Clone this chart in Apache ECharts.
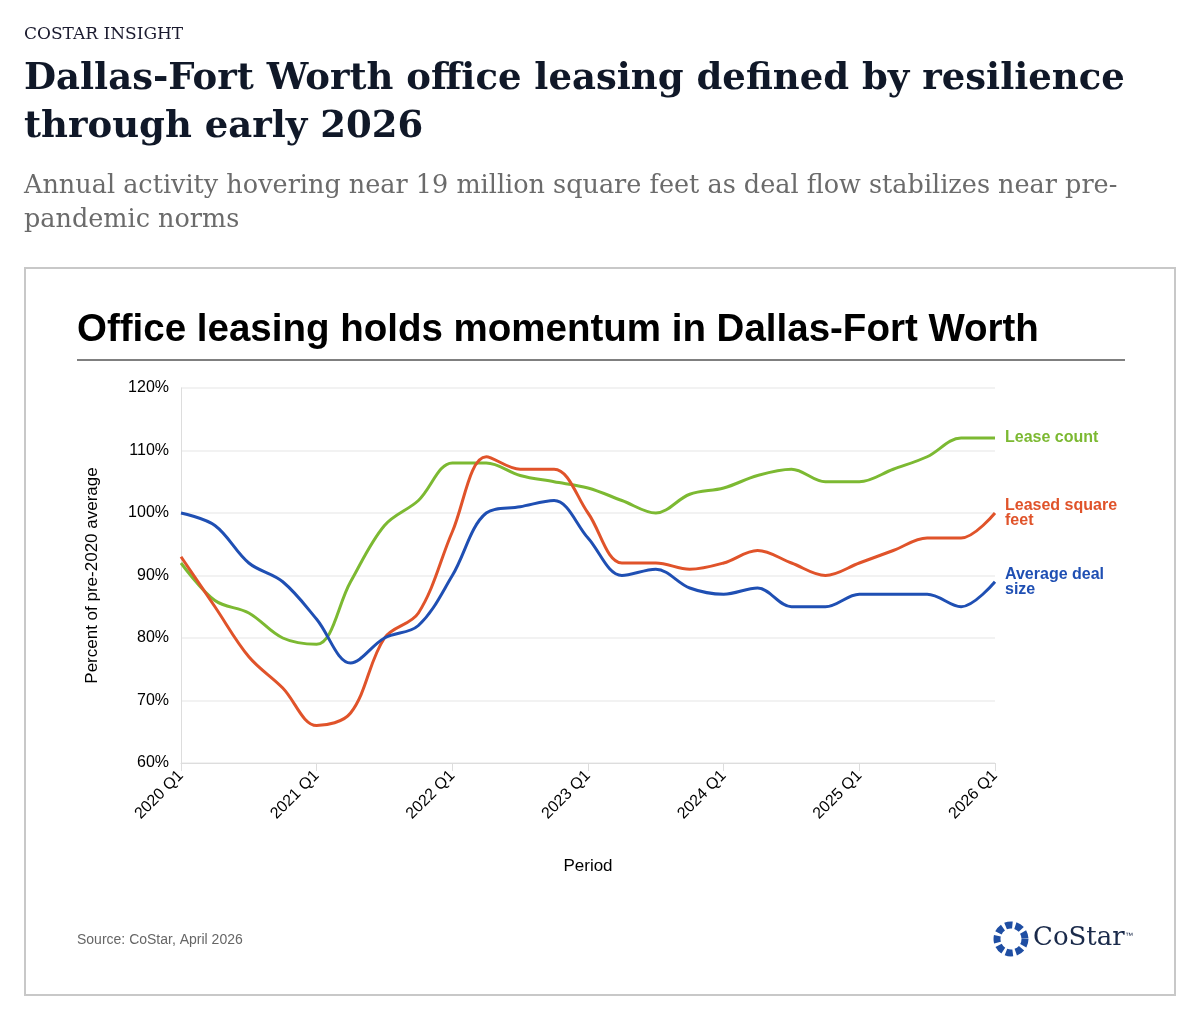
<!DOCTYPE html>
<html lang="en">
<head>
<meta charset="UTF-8" />
<title>Dallas-Fort Worth office leasing</title>
<script src="https://cdn.jsdelivr.net/npm/echarts@6/dist/echarts.min.js"></script>
<style>
  html, body { margin: 0; padding: 0; background: #fff; }
  #main { width: 1200px; height: 1020px; }
</style>
</head>
<body>
<div id="main"></div>
<script type="text/javascript">
// quarters 2020 Q1 .. 2026 Q1
var periods = [];
for (var y = 2020; y <= 2026; y++) {
  for (var q = 1; q <= 4; q++) {
    if (y === 2026 && q > 1) break;
    periods.push(y + " Q" + q);
  }
}
var leaseCount = [92, 86, 84, 80, 79, 89, 98, 102, 108, 108, 106, 105, 104, 102, 100, 103, 104, 106, 107, 105, 105, 107, 109, 112, 112];
var leasedSqft = [93, 85, 77, 72, 66, 68, 80, 84, 97, 109, 107, 107, 100, 92, 92, 91, 92, 94, 92, 90, 92, 94, 96, 96, 100];
var avgDealSize = [100, 98, 92, 89, 83, 76, 80, 82, 90, 100, 101, 102, 96, 90, 91, 88, 87, 88, 85, 85, 87, 87, 87, 85, 89];

var serif = "'DejaVu Serif', serif";
var sans = "'Liberation Sans', Arial, sans-serif";

var chart = echarts.init(document.getElementById("main"));

function mkSeries(name, data, color, label) {
  return {
    name: name,
    type: "line",
    data: data,
    smooth: 0.35,
    symbol: "none",
    lineStyle: { color: color, width: 3 },
    endLabel: {
      show: true,
      formatter: label,
      color: color,
      fontFamily: sans,
      fontWeight: "bold",
      fontSize: 16,
      lineHeight: 15,
      distance: 10
    }
  };
}

var option = {
  animation: false,
  graphic: [
    { type: "text", left: 24, top: 26, style: { text: "COSTAR INSIGHT", font: "17px " + serif, fill: "#1a1a2e" } },
    { type: "text", left: 24, top: 55, style: { text: "Dallas-Fort Worth office leasing defined by resilience\nthrough early 2026", font: "bold 37px " + serif, lineHeight: 48, fill: "#101828" } },
    { type: "text", left: 24, top: 169, style: { text: "Annual activity hovering near 19 million square feet as deal flow stabilizes near pre-\npandemic norms", font: "25.5px " + serif, lineHeight: 34, fill: "#6b6b6b" } },
    { type: "rect", shape: { x: 25, y: 268, width: 1150, height: 727 }, style: { fill: "none", stroke: "#c8c8c8", lineWidth: 2 } },
    { type: "text", left: 77, top: 311, style: { text: "Office leasing holds momentum in Dallas-Fort Worth", font: "bold 38.5px " + sans, fill: "#000" } },
    { type: "line", shape: { x1: 77, y1: 360, x2: 1125, y2: 360 }, style: { stroke: "#000", lineWidth: 1 } },
    { type: "text", left: 77, top: 933, style: { text: "Source: CoStar, April 2026", font: "14px " + sans, fill: "#666" } },
    { type: "text", left: 1033, top: 925, style: { text: "CoStar", font: "26px " + serif, fill: "#1a2a4a" } },
    { type: "text", left: 1125, top: 932, style: { text: "\u2122", font: "8px " + sans, fill: "#1a2a4a" } },
    { type: "circle", shape: { cx: 1011, cy: 939, r: 14 }, style: { fill: "none", stroke: "#1f4ea3", lineWidth: 7, lineDash: [7, 3] } }
  ],
  grid: { left: 181, right: 205, top: 388, bottom: 257 },
  xAxis: {
    type: "category",
    data: periods,
    boundaryGap: false,
    name: "Period",
    nameLocation: "middle",
    nameGap: 95,
    nameTextStyle: { fontFamily: sans, fontSize: 17, color: "#000" },
    axisLine: { lineStyle: { color: "#ddd" } },
    axisTick: { show: true, interval: 3, length: 8, lineStyle: { color: "#ddd" } },
    splitLine: { show: false },
    axisLabel: {
      interval: 3,
      rotate: 45,
      fontFamily: sans,
      fontSize: 16,
      color: "#000",
      margin: 10
    }
  },
  yAxis: {
    type: "value",
    min: 60,
    max: 120,
    interval: 10,
    name: "Percent of pre-2020 average",
    nameLocation: "middle",
    nameGap: 80,
    nameTextStyle: { fontFamily: sans, fontSize: 17, color: "#000" },
    axisLine: { show: true, lineStyle: { color: "#ddd" } },
    axisTick: { show: false },
    splitLine: { lineStyle: { color: "#eee", width: 1.5 } },
    axisLabel: { formatter: "{value}%", fontFamily: sans, fontSize: 16, color: "#000", margin: 12 }
  },
  series: [
    mkSeries("Lease count", leaseCount, "#7cb932", "Lease count"),
    mkSeries("Leased square feet", leasedSqft, "#e0532a", "Leased square\nfeet"),
    mkSeries("Average deal size", avgDealSize, "#1f4fb3", "Average deal\nsize")
  ]
};

chart.setOption(option);
</script>
</body>
</html>
